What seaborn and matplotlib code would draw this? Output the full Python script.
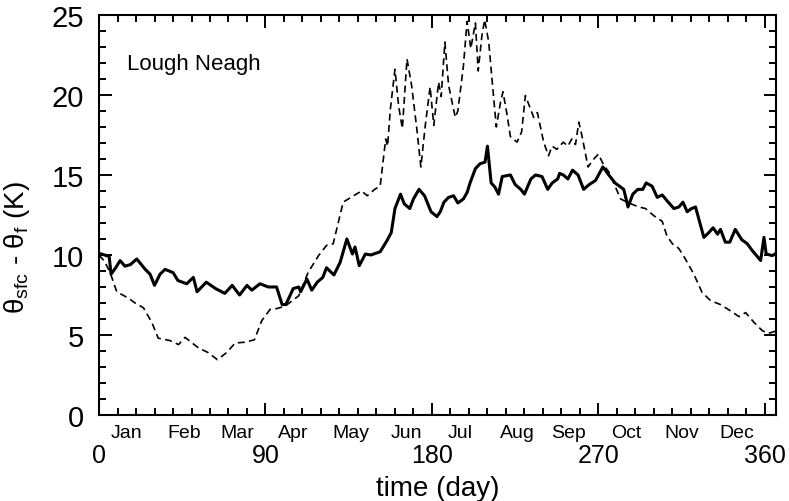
import pandas as pd
import seaborn as sns
import matplotlib
matplotlib.use('Agg')
import matplotlib.pyplot as plt
from matplotlib.ticker import MultipleLocator

# Data (day of year, K)
solid_day = [0, 3, 5.5, 6.5, 9, 11.4, 14, 17, 20.4, 25, 27.6, 30, 33, 35.7, 40, 42.7, 47.4, 51, 53, 58,
             63, 68, 72, 76, 80, 82.6, 87, 91.5, 96, 99, 101, 105, 108, 109, 112.4, 115, 118, 121, 123, 127,
             130.4, 134, 137, 138.4, 140.7, 144, 147, 152, 155.7, 158, 160, 163, 165, 168, 170, 173, 176,
             179.5, 182.7, 184.5, 186.5, 189, 191.7, 194, 197, 199, 200.6, 203.5, 206, 208.7, 210, 212, 214,
             216, 218, 222.4, 225, 228, 230, 233.5, 236, 239.5, 242.6, 245, 248, 249, 251, 253.5, 256, 259,
             262, 265, 268.4, 272.4, 275.6, 279, 283.7, 286, 288.6, 291.3, 294, 295.8, 299, 301.8, 304.5,
             307, 310.8, 313.5, 315.7, 318, 320.3, 322.5, 324.3, 327, 329.7, 332, 334.4, 336, 338.6, 341,
             344, 347.5, 350.5, 353, 355.5, 357.7, 359.5, 360.7, 364, 366]
solid_val = [10.1, 10.0, 9.9, 8.8, 9.2, 9.65, 9.3, 9.4, 9.75, 9.1, 8.8, 8.1, 8.8, 9.1, 8.9, 8.4, 8.2, 8.6, 7.7, 8.3,
             7.9, 7.6, 8.1, 7.5, 8.1, 7.8, 8.2, 8.0, 8.0, 6.9, 6.9, 7.9, 8.0, 7.7, 8.5, 7.8, 8.3, 8.6, 9.2, 8.75,
             9.55, 11.0, 10.06, 10.5, 9.33, 10.06, 10.0, 10.2, 10.9, 11.4, 12.9, 13.8, 13.2, 12.9, 13.5, 14.1, 13.7,
             12.7, 12.4, 12.7, 13.3, 13.6, 13.7, 13.25, 13.5, 13.9, 14.5, 15.4, 15.7, 15.8, 16.8, 14.5, 14.25,
             13.8, 14.9, 15.0, 14.4, 14.1, 13.8, 14.75, 15.0, 14.9, 14.1, 14.5, 14.75, 15.1, 15.0, 14.75, 15.3, 15.0,
             14.1, 14.4, 14.65, 15.5, 15.0, 14.5, 14.1, 13.0, 13.8, 14.1, 14.1, 14.5, 14.3, 13.6, 13.75,
             13.4, 12.9, 13.0, 13.3, 12.7, 12.9, 13.0, 12.25, 11.1, 11.4, 11.7, 11.3, 11.6, 10.8, 10.8,
             11.6, 10.95, 10.7, 10.3, 9.96, 9.65, 11.1, 10.06, 9.96, 10.1]

dash_day = [0, 3, 6, 9.6, 15.9, 19.5, 24, 28.5, 32, 38.4, 43, 46.5, 53.7, 59, 64, 69, 73.6, 79, 84, 88,
            92.5, 96, 100.6, 104, 108, 113, 118.7, 123, 126.6, 132, 137.6, 142, 145, 149, 152, 155, 156, 157.5,
            160, 162, 164, 166.5, 169, 172, 174, 176.4, 179, 181, 183.6, 185, 187, 189, 192.6, 194, 197, 199,
            201, 203.5, 205, 207, 208.5, 210.7, 212.6, 214.8, 217, 218.4, 220.7, 222.4, 226, 228.5, 230.5,
            232.7, 235, 237, 240.4, 243, 245, 247.5, 251, 253.5, 255.6, 257.6, 259.4, 261, 264.4, 267.5, 270,
            272.9, 275.6, 279, 282, 286.4, 291.8, 295.5, 300, 304.5, 307, 310, 313.5, 317, 321.6, 326, 330.6,
            336, 341.5, 346, 349.6, 354, 358.6, 362, 366]
dash_val = [10.0, 9.6, 8.9, 7.7, 7.3, 7.0, 6.7, 5.8, 4.8, 4.65, 4.4, 4.85, 4.2, 3.9, 3.46, 3.9, 4.5, 4.55, 4.7, 5.9,
            6.6, 6.65, 6.8, 7.1, 7.45, 8.9, 9.96, 10.6, 10.7, 13.3, 13.7, 14.0, 13.7, 14.1, 14.3, 17.25, 16.8, 19.1,
            21.6, 19.3, 17.9, 22.25, 20.6, 17.7, 15.5, 18.1, 20.5, 18.1, 20.8, 19.9, 23.3, 20.6, 18.6, 19.0, 21.8, 24.6,
            22.9, 24.5, 21.5, 23.7, 24.7, 23.3, 20.8, 18.0, 19.5, 20.2, 18.7, 17.4, 17.05, 17.7, 19.96,
            19.3, 18.6, 18.9, 17.05, 16.2, 16.8, 16.6, 17.05, 16.8, 17.25, 16.9, 18.3, 17.5, 15.5, 16.0, 16.3,
            15.6, 15.2, 14.3, 13.5, 13.25, 13.0, 12.9, 12.45, 12.1, 11.2, 10.7, 10.4, 9.75, 8.8, 7.67, 7.15,
            6.9, 6.5, 6.15, 6.4, 5.8, 5.27, 5.1, 5.25]

month_names = ['Jan', 'Feb', 'Mar', 'Apr', 'May', 'Jun', 'Jul', 'Aug', 'Sep', 'Oct', 'Nov', 'Dec']
month_pos = [15, 46, 75, 105, 136, 166, 195, 226, 254, 285, 315, 345]

sns.set_style('ticks')
plt.rcParams['font.family'] = ['Liberation Sans', 'DejaVu Sans']
plt.rcParams['mathtext.fontset'] = 'custom'
plt.rcParams['mathtext.rm'] = 'Liberation Sans'
for k in ['text.color', 'axes.labelcolor', 'xtick.color', 'ytick.color', 'axes.edgecolor']:
    plt.rcParams[k] = 'black'

fig = plt.figure(figsize=(7.89, 5.02), dpi=100)
ax = fig.add_axes([0.1255, 0.1713, 0.858, 0.797])

df_solid = pd.DataFrame({'day': solid_day, 'val': solid_val})
df_dash = pd.DataFrame({'day': dash_day, 'val': dash_val})

sns.lineplot(data=df_solid, x='day', y='val', color='black', linewidth=2.2, estimator=None, ax=ax)
sns.lineplot(data=df_dash, x='day', y='val', color='black', linewidth=1.2, estimator=None,
             linestyle=(0, (4.2, 2.6)), ax=ax)

ax.set_xlim(0, 366)
ax.set_ylim(0, 25)
ax.xaxis.set_major_locator(MultipleLocator(90))
ax.xaxis.set_minor_locator(MultipleLocator(10))
ax.yaxis.set_major_locator(MultipleLocator(5))
ax.yaxis.set_minor_locator(MultipleLocator(1))

for s in ax.spines.values():
    s.set_linewidth(1.5)
    s.set_color('black')
ax.tick_params(which='both', direction='in', top=True, right=True, width=1.4, color='black')
ax.tick_params(which='major', length=9)
ax.tick_params(which='minor', length=5)
ax.tick_params(axis='x', which='major', labelsize=18, pad=20)
ax.tick_params(axis='y', which='major', labelsize=21, pad=11)

for name, pos in zip(month_names, month_pos):
    ax.text(pos, -0.022, name, transform=ax.get_xaxis_transform(), ha='center', va='top', fontsize=14)

ax.set_xlabel('time (day)', fontsize=20, labelpad=6)
ax.set_ylabel(r'θ$_\mathregular{sfc}$ - θ$_\mathregular{f}$ (K)', fontsize=20)
ax.yaxis.set_label_coords(-0.099, 0.42)

ax.text(0.041, 0.905, 'Lough Neagh', transform=ax.transAxes, ha='left', va='top', fontsize=16)

fig.savefig('out.png', dpi=100)
